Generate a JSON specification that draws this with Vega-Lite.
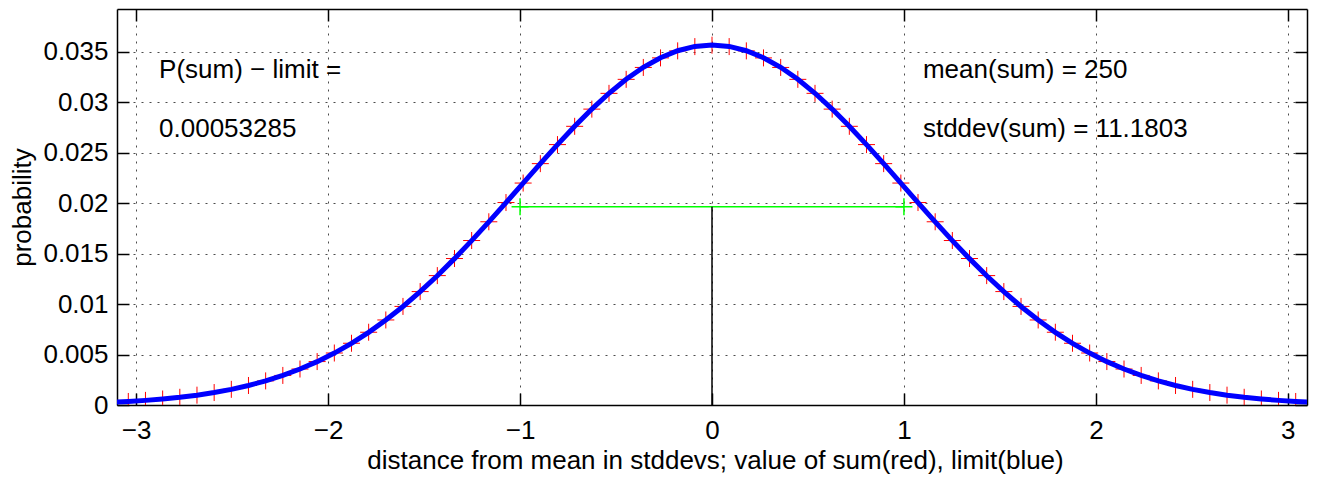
{
  "$schema": "https://vega.github.io/schema/vega-lite/v6.json",
  "width": 1190,
  "height": 396,
  "autosize": {"type": "none"},
  "padding": {"left": 117, "top": 9, "right": 14, "bottom": 73},
  "background": "white",
  "config": {"view": {"stroke": null}, "font": "Liberation Sans"},
  "datasets": {
    "dist": [
      {"z": -3.1305, "pmf": null, "limit": 0.000266},
      {"z": -3.0411, "pmf": 0.000350, "limit": 0.000350},
      {"z": -2.9516, "pmf": 0.000458, "limit": 0.000458},
      {"z": -2.8622, "pmf": 0.000594, "limit": 0.000594},
      {"z": -2.7727, "pmf": 0.000764, "limit": 0.000764},
      {"z": -2.6833, "pmf": 0.000975, "limit": 0.000975},
      {"z": -2.5938, "pmf": 0.001235, "limit": 0.001234},
      {"z": -2.5044, "pmf": 0.001552, "limit": 0.001551},
      {"z": -2.4150, "pmf": 0.001933, "limit": 0.001932},
      {"z": -2.3255, "pmf": 0.002390, "limit": 0.002388},
      {"z": -2.2361, "pmf": 0.002931, "limit": 0.002929},
      {"z": -2.1466, "pmf": 0.003566, "limit": 0.003563},
      {"z": -2.0572, "pmf": 0.004304, "limit": 0.004300},
      {"z": -1.9677, "pmf": 0.005153, "limit": 0.005148},
      {"z": -1.8783, "pmf": 0.006120, "limit": 0.006114},
      {"z": -1.7889, "pmf": 0.007211, "limit": 0.007204},
      {"z": -1.6994, "pmf": 0.008428, "limit": 0.008420},
      {"z": -1.6100, "pmf": 0.009772, "limit": 0.009763},
      {"z": -1.5205, "pmf": 0.011241, "limit": 0.011231},
      {"z": -1.4311, "pmf": 0.012826, "limit": 0.012815},
      {"z": -1.3416, "pmf": 0.014518, "limit": 0.014507},
      {"z": -1.2522, "pmf": 0.016303, "limit": 0.016292},
      {"z": -1.1628, "pmf": 0.018160, "limit": 0.018150},
      {"z": -1.0733, "pmf": 0.020067, "limit": 0.020058},
      {"z": -0.9839, "pmf": 0.021998, "limit": 0.021991},
      {"z": -0.8944, "pmf": 0.023923, "limit": 0.023918},
      {"z": -0.8050, "pmf": 0.025809, "limit": 0.025807},
      {"z": -0.7155, "pmf": 0.027622, "limit": 0.027623},
      {"z": -0.6261, "pmf": 0.029327, "limit": 0.029331},
      {"z": -0.5367, "pmf": 0.030890, "limit": 0.030897},
      {"z": -0.4472, "pmf": 0.032277, "limit": 0.032286},
      {"z": -0.3578, "pmf": 0.033457, "limit": 0.033470},
      {"z": -0.2683, "pmf": 0.034405, "limit": 0.034420},
      {"z": -0.1789, "pmf": 0.035100, "limit": 0.035116},
      {"z": -0.0894, "pmf": 0.035523, "limit": 0.035540},
      {"z": 0.0, "pmf": 0.035664, "limit": 0.035682},
      {"z": 0.0894, "pmf": 0.035523, "limit": 0.035540},
      {"z": 0.1789, "pmf": 0.035100, "limit": 0.035116},
      {"z": 0.2683, "pmf": 0.034405, "limit": 0.034420},
      {"z": 0.3578, "pmf": 0.033457, "limit": 0.033470},
      {"z": 0.4472, "pmf": 0.032277, "limit": 0.032286},
      {"z": 0.5367, "pmf": 0.030890, "limit": 0.030897},
      {"z": 0.6261, "pmf": 0.029327, "limit": 0.029331},
      {"z": 0.7155, "pmf": 0.027622, "limit": 0.027623},
      {"z": 0.8050, "pmf": 0.025809, "limit": 0.025807},
      {"z": 0.8944, "pmf": 0.023923, "limit": 0.023918},
      {"z": 0.9839, "pmf": 0.021998, "limit": 0.021991},
      {"z": 1.0733, "pmf": 0.020067, "limit": 0.020058},
      {"z": 1.1628, "pmf": 0.018160, "limit": 0.018150},
      {"z": 1.2522, "pmf": 0.016303, "limit": 0.016292},
      {"z": 1.3416, "pmf": 0.014518, "limit": 0.014507},
      {"z": 1.4311, "pmf": 0.012826, "limit": 0.012815},
      {"z": 1.5205, "pmf": 0.011241, "limit": 0.011231},
      {"z": 1.6100, "pmf": 0.009772, "limit": 0.009763},
      {"z": 1.6994, "pmf": 0.008428, "limit": 0.008420},
      {"z": 1.7889, "pmf": 0.007211, "limit": 0.007204},
      {"z": 1.8783, "pmf": 0.006120, "limit": 0.006114},
      {"z": 1.9677, "pmf": 0.005153, "limit": 0.005148},
      {"z": 2.0572, "pmf": 0.004304, "limit": 0.004300},
      {"z": 2.1466, "pmf": 0.003566, "limit": 0.003563},
      {"z": 2.2361, "pmf": 0.002931, "limit": 0.002929},
      {"z": 2.3255, "pmf": 0.002390, "limit": 0.002388},
      {"z": 2.4150, "pmf": 0.001933, "limit": 0.001932},
      {"z": 2.5044, "pmf": 0.001552, "limit": 0.001551},
      {"z": 2.5938, "pmf": 0.001235, "limit": 0.001234},
      {"z": 2.6833, "pmf": 0.000975, "limit": 0.000975},
      {"z": 2.7727, "pmf": 0.000764, "limit": 0.000764},
      {"z": 2.8622, "pmf": 0.000594, "limit": 0.000594},
      {"z": 2.9516, "pmf": 0.000458, "limit": 0.000458},
      {"z": 3.0411, "pmf": 0.000350, "limit": 0.000350},
      {"z": 3.1305, "pmf": null, "limit": 0.000266}
    ],
    "width1": [
      {"z": -1, "z2": 1, "h": 0.01966}
    ],
    "ends": [
      {"z": -1, "h": 0.01966},
      {"z": 1, "h": 0.01966}
    ],
    "center": [
      {"z": 0, "lo": 0, "h": 0.01966}
    ],
    "notes": [
      {"z": -2.881, "y": 0.03241, "label": "P(sum) − limit ="},
      {"z": -2.881, "y": 0.02659, "label": "0.00053285"},
      {"z": 1.099, "y": 0.03241, "label": "mean(sum) = 250"},
      {"z": 1.099, "y": 0.02659, "label": "stddev(sum) = 11.1803"}
    ]
  },
  "layer": [
    {
      "data": {"name": "dist"},
      "mark": {"type": "line", "color": "#0000ff", "strokeWidth": 5, "clip": true, "opacity": 0},
      "encoding": {
        "x": {
          "field": "z", "type": "quantitative",
          "scale": {"domain": [-3.1, 3.1], "nice": false, "zero": false},
          "axis": {
            "orient": "bottom", "values": [-3, -2, -1, 0, 1, 2, 3], "format": "d",
            "grid": true, "gridDash": [2, 6], "gridColor": "#000000", "gridOpacity": 0.7, "gridWidth": 1,
            "tickSize": -12, "tickColor": "#000000", "tickWidth": 1.5,
            "domainColor": "#000000", "domainWidth": 1.5,
            "labelFontSize": 26, "labelPadding": 45, "labelBaseline": "alphabetic", "labelColor": "#000000",
            "labelFlush": false, "labelOverlap": false, "labelFont": "Liberation Sans",
            "title": "distance from mean in stddevs; value of sum(red), limit(blue)",
            "titleFontSize": 26, "titleFontWeight": "normal", "titleColor": "#000000", "titleFont": "Liberation Sans",
            "titleBaseline": "alphabetic", "titleY": 63, "titleX": 598, "titleAlign": "center"
          }
        },
        "y": {
          "field": "limit", "type": "quantitative",
          "scale": {"domain": [0, 0.03925], "nice": false, "zero": false},
          "axis": {
            "orient": "left", "values": [0, 0.005, 0.01, 0.015, 0.02, 0.025, 0.03, 0.035], "format": "~g",
            "grid": true, "gridDash": [2, 6], "gridColor": "#000000", "gridOpacity": 0.7, "gridWidth": 1,
            "tickSize": -12, "tickColor": "#000000", "tickWidth": 1.5,
            "domainColor": "#000000", "domainWidth": 1.5,
            "labelFontSize": 26, "labelPadding": 21, "labelColor": "#000000", "labelFont": "Liberation Sans",
            "labelFlush": false, "labelOverlap": false,
            "title": "probability",
            "titleFontSize": 26, "titleFontWeight": "normal", "titleColor": "#000000", "titleFont": "Liberation Sans",
            "titleAngle": 270, "titleBaseline": "alphabetic", "titleAlign": "center", "titleX": -87, "titleY": 198
          }
        }
      }
    },
    {
      "data": {"name": "dist"},
      "mark": {"type": "point", "shape": "M-1,0H1M0,-1V1", "size": 289, "filled": false, "color": "#ff0000", "strokeWidth": 1, "opacity": 1, "clip": true},
      "encoding": {
        "x": {
          "field": "z", "type": "quantitative",
          "axis": {"orient": "top", "values": [-3, -2, -1, 0, 1, 2, 3], "labels": false, "grid": false, "title": null,
                   "tickSize": -12, "tickColor": "#000000", "tickWidth": 1.5, "domainColor": "#000000", "domainWidth": 1.5}
        },
        "y": {
          "field": "pmf", "type": "quantitative",
          "axis": {"orient": "right", "values": [0, 0.005, 0.01, 0.015, 0.02, 0.025, 0.03, 0.035], "labels": false, "grid": false, "title": null,
                   "tickSize": -12, "tickColor": "#000000", "tickWidth": 1.5, "domainColor": "#000000", "domainWidth": 1.5}
        }
      }
    },
    {
      "data": {"name": "dist"},
      "mark": {"type": "line", "color": "#0000ff", "strokeWidth": 5, "clip": true},
      "encoding": {
        "x": {"field": "z", "type": "quantitative", "axis": null},
        "y": {"field": "limit", "type": "quantitative", "axis": null}
      }
    },
    {
      "data": {"name": "width1"},
      "mark": {"type": "rule", "color": "#00ff00", "strokeWidth": 1.5},
      "encoding": {
        "x": {"field": "z", "type": "quantitative", "axis": null},
        "x2": {"field": "z2"},
        "y": {"field": "h", "type": "quantitative", "axis": null}
      }
    },
    {
      "data": {"name": "ends"},
      "mark": {"type": "point", "shape": "M-1,0H1M0,-1V1", "size": 289, "filled": false, "color": "#00ff00", "strokeWidth": 1.5, "opacity": 1},
      "encoding": {
        "x": {"field": "z", "type": "quantitative", "axis": null},
        "y": {"field": "h", "type": "quantitative", "axis": null}
      }
    },
    {
      "data": {"name": "center"},
      "mark": {"type": "rule", "color": "#000000", "strokeWidth": 1.5},
      "encoding": {
        "x": {"field": "z", "type": "quantitative", "axis": null},
        "y": {"field": "lo", "type": "quantitative", "axis": null},
        "y2": {"field": "h"}
      }
    },
    {
      "data": {"name": "notes"},
      "mark": {"type": "text", "align": "left", "baseline": "alphabetic", "fontSize": 26, "font": "Liberation Sans", "color": "#000000"},
      "encoding": {
        "x": {"field": "z", "type": "quantitative", "axis": null},
        "y": {"field": "y", "type": "quantitative", "axis": null},
        "text": {"field": "label"}
      }
    }
  ],
  "resolve": {"axis": {"x": "independent", "y": "independent"}}
}
